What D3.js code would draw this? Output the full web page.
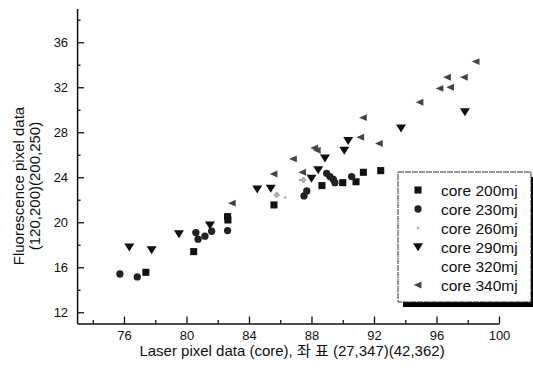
<!DOCTYPE html>
<html>
<head>
<meta charset="utf-8">
<script src="https://cdn.jsdelivr.net/npm/d3@7"></script>
<style>
  html, body { margin: 0; padding: 0; background: #fff; }
  svg { display: block; font-family: Arial, "Liberation Sans", "Noto Sans CJK KR", sans-serif; }
</style>
</head>
<body>
<div id="chart"></div>
<script>
// series values: [laser, fluorescence]
const core200 = [[77.4, 15.55], [80.46, 17.39], [82.63, 20.5], [82.65, 20.2], [85.6, 21.54],
  [88.67, 23.26], [90.0, 23.52], [90.85, 23.6], [91.32, 24.44], [92.43, 24.59]];
const core230 = [[75.74, 15.4], [76.85, 15.14], [80.6, 19.08], [80.74, 18.5], [81.18, 18.76],
  [81.61, 19.2], [82.63, 19.26], [87.52, 22.34], [87.7, 22.78], [88.97, 24.35], [89.18, 24.06],
  [89.4, 23.8], [89.5, 23.52], [90.57, 24.06]];
const core260 = [[86.32, 22.19], [87.26, 23.76], [88.1, 24.1]];
const core320 = [[85.77, 22.43], [87.48, 23.76]];
const core290 = [[76.34, 17.78], [77.77, 17.54], [79.52, 18.96], [81.5, 19.73], [84.53, 22.93],
  [85.39, 22.99], [88.0, 23.9], [88.43, 24.65], [88.86, 25.68], [90.1, 26.37], [90.35, 27.25],
  [93.73, 28.36], [97.82, 29.8]];
const core340 = [[82.93, 21.7], [85.6, 24.29], [86.84, 25.63], [87.43, 24.44], [88.37, 26.4],
  [88.2, 26.6], [91.15, 27.55], [92.34, 27.0], [91.32, 29.3], [94.94, 30.67], [96.22, 31.9],
  [96.9, 32.0], [96.7, 32.89], [97.78, 32.89], [98.53, 34.28]];

const seriesNames = ['core 200mj', 'core 230mj', 'core 260mj', 'core 290mj', 'core 320mj', 'core 340mj'];
const seriesData = [core200, core230, core260, core290, core320, core340];
const xTickLabels = [76, 80, 84, 88, 92, 96, 100];
const yTickLabels = [12, 16, 20, 24, 28, 32, 36];

const width = 533, height = 371;

const svg = d3.select('#chart')
  .append('svg')
  .attr('width', width)
  .attr('height', height);

const x = d3.scaleLinear().domain([73, 100]).range([77.1, 499]);
const y = d3.scaleLinear().domain([11, 39]).range([323.5, 8.5]);

// marker shapes per series
const symbols = [
  d3.symbol().type(d3.symbolSquare).size(50),
  d3.symbol().type(d3.symbolCircle).size(42),
  d3.symbol().type(d3.symbolCircle).size(5),
  null,
  d3.symbol().type(d3.symbolCross).size(14),
  null
];
const downTri = (s) => `M${-s},${-s * 0.75}L${s},${-s * 0.75}L0,${s * 0.85}Z`;
const leftTri = (s) => `M${-s},0L${s * 0.8},${-s * 0.8}L${s * 0.8},${s * 0.8}Z`;
const shapePath = (i) => {
  if (i === 3) return downTri(5);
  if (i === 5) return leftTri(4.3);
  return symbols[i]();
};
const fills = ['#111', '#222', '#aaa', '#111', '#bbb', '#444'];

// axes
const xAxis = d3.axisBottom(x)
  .tickValues(d3.range(74, 101, 2))
  .tickSizeInner(0).tickSizeOuter(0)
  .tickFormat(d => xTickLabels.includes(d) ? d : '');
const gx = svg.append('g')
  .attr('transform', `translate(0,${y(11)})`)
  .call(xAxis);
gx.select('.domain').attr('stroke', '#111').attr('stroke-width', 1.5);
gx.selectAll('.tick line')
  .attr('stroke', '#111').attr('stroke-width', 1.3)
  .attr('y2', d => xTickLabels.includes(d) ? -7 : -3.5);
gx.selectAll('.tick text')
  .attr('fill', '#111').attr('font-size', 13).attr('dy', 0).attr('y', 16);

const yAxis = d3.axisLeft(y)
  .tickValues(d3.range(12, 39, 2))
  .tickSizeInner(0).tickSizeOuter(0)
  .tickFormat(d => yTickLabels.includes(d) ? d : '');
const gy = svg.append('g')
  .attr('transform', `translate(${x(73)},0)`)
  .call(yAxis);
gy.select('.domain').attr('stroke', '#111').attr('stroke-width', 1.5);
gy.selectAll('.tick line')
  .attr('stroke', '#111').attr('stroke-width', 1.3)
  .attr('x2', d => yTickLabels.includes(d) ? 7 : 3.5);
gy.selectAll('.tick text')
  .attr('fill', '#111').attr('font-size', 13).attr('x', -9);

// axis titles
svg.append('text')
  .attr('x', 292).attr('y', 356)
  .attr('text-anchor', 'middle')
  .attr('font-size', 15).attr('fill', '#111')
  .text('Laser pixel data (core), 좌 표 (27,347)(42,362)');

const yl = svg.append('text')
  .attr('transform', 'translate(24,186) rotate(-90)')
  .attr('text-anchor', 'middle')
  .attr('font-size', 15).attr('fill', '#111');
yl.append('tspan').attr('x', 0).attr('dy', 0).text('Fluorescence pixel data');
yl.append('tspan').attr('x', 0).attr('dy', 15.5).text('(120,200)(200,250)');

// points
seriesData.forEach((data, i) => {
  svg.append('g')
    .selectAll('path')
    .data(data)
    .join('path')
    .attr('transform', d => `translate(${x(d[0])},${y(d[1])})`)
    .attr('d', shapePath(i))
    .attr('fill', fills[i])
    .attr('stroke', i === 4 ? '#999' : 'none')
    .attr('stroke-width', 0.8);
});

// legend
const lg = svg.append('g').attr('transform', 'translate(398,172)');
lg.append('rect')
  .attr('x', 5).attr('y', 5).attr('width', 133).attr('height', 130)
  .attr('fill', '#000');
lg.append('rect')
  .attr('x', 0).attr('y', 0).attr('width', 133).attr('height', 130)
  .attr('fill', '#fff').attr('stroke', '#333').attr('stroke-width', 1)
  .attr('stroke-dasharray', '6,1');
const items = lg.selectAll('.legend-item')
  .data(seriesNames)
  .join('g')
  .attr('class', 'legend-item')
  .attr('transform', (d, i) => `translate(0,${18 + i * 19})`);
items.append('path')
  .attr('transform', 'translate(20,0)')
  .attr('d', (d, i) => i === 4 ? '' : shapePath(i))
  .attr('fill', (d, i) => fills[i]);
items.append('text')
  .attr('x', 43).attr('y', 5.5)
  .attr('font-size', 15.5).attr('fill', '#111')
  .text(d => d);
</script>
</body>
</html>
